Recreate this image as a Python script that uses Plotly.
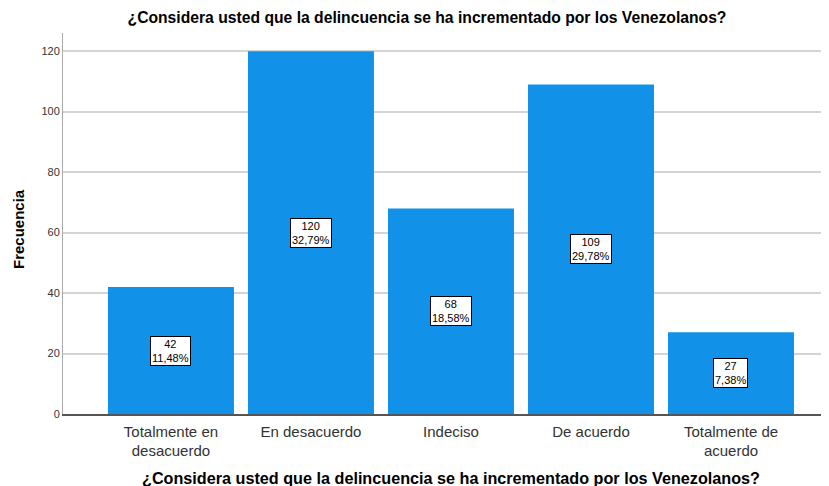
import plotly.graph_objects as go

categorias = ['Totalmente en<br>desacuerdo', 'En desacuerdo', 'Indeciso', 'De acuerdo', 'Totalmente de<br>acuerdo']
frecuencias = [42, 120, 68, 109, 27]
porcentajes = ['11,48%', '32,79%', '18,58%', '29,78%', '7,38%']

titulo = '¿Considera usted que la delincuencia se ha incrementado por los Venezolanos?'
fuente = 'Liberation Sans, Arial, sans-serif'

# la pagina tiene 8px de margen en el body, asi que la figura mide 821x478
W, H = 821, 478
L, T, B = 55, 25, 72
PW, PH = W - L, H - T - B

fig = go.Figure()
fig.add_trace(
    go.Bar(
        x=list(range(len(categorias))),
        y=frecuencias,
        marker=dict(color='#1192e8', line=dict(width=0)),
        hoverinfo='y',
    )
)

for i, (f, p) in enumerate(zip(frecuencias, porcentajes)):
    fig.add_annotation(
        x=i, y=f / 2, text=f'{f}<br>{p}', showarrow=False,
        font=dict(family=fuente, size=11, color='black'),
        bgcolor='white', bordercolor='black', borderwidth=1, borderpad=1,
    )

# titulos de ejes como anotaciones (posicion fija)
fig.add_annotation(
    xref='paper', yref='paper', x=(443 - L) / PW, y=-64 / PH,
    text=f'<b>{titulo}</b>', showarrow=False, xanchor='center', yanchor='middle',
    font=dict(family=fuente, size=16.2, color='black'),
)
fig.add_annotation(
    xref='paper', yref='paper', x=-(L - 10) / PW, y=0.5 - 5.5 / PH, textangle=-90,
    text='<b>Frecuencia</b>', showarrow=False, xanchor='center', yanchor='middle',
    font=dict(family=fuente, size=15, color='black'),
)

fig.update_layout(
    width=W, height=H,
    margin=dict(l=L, r=0, t=T, b=B, autoexpand=False),
    paper_bgcolor='white', plot_bgcolor='white',
    bargap=0.1,
    showlegend=False,
    font=dict(family=fuente, color='black'),
    title=dict(text=f'<b>{titulo}</b>', x=419 / W, xanchor='center', y=1 - 10 / H, yanchor='middle',
               font=dict(size=15.7)),
)
fig.update_xaxes(
    range=[-0.771, 4.7], automargin=False,
    tickmode='array', tickvals=list(range(len(categorias))), ticktext=categorias,
    tickfont=dict(size=15, color='#333333'), ticklabelstandoff=3,
    showline=True, linecolor='#555555', linewidth=1.5,
    ticks='', showgrid=False,
)
fig.update_yaxes(
    range=[0, 126], tickvals=[0, 20, 40, 60, 80, 100, 120], automargin=False,
    tickfont=dict(size=11, color='#333333'),
    showline=True, linecolor='#aaaaaa', linewidth=1,
    showgrid=True, gridcolor='#d4d4d4', gridwidth=1.5,
    ticks='', zeroline=False,
)

fig.write_html('out.html')
